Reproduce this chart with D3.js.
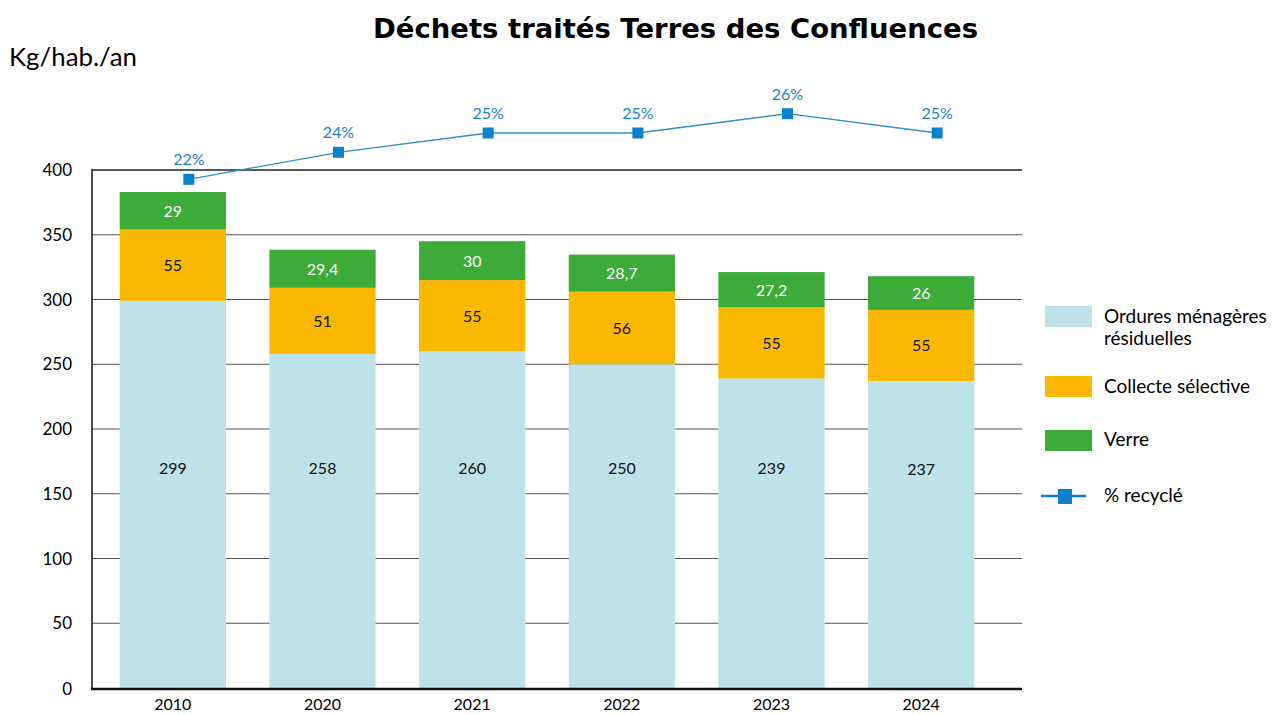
<!DOCTYPE html>
<html>
<head>
<meta charset="utf-8">
<script src="https://cdn.jsdelivr.net/npm/d3@7"></script>
<style>
	body { margin: 0; background: #ffffff; }
	text { font-family: "Lato", "Open Sans", sans-serif; }
</style>
</head>
<body>
<script>
// data
var years = ["2010", "2020", "2021", "2022", "2023", "2024"];
var omr = [299, 258, 260, 250, 239, 237];
var collecte = [55, 51, 55, 56, 55, 55];
var verre = [29, 29.4, 30, 28.7, 27.2, 26];
var recycle = [22.6, 24, 25, 25, 26, 25];
var recycleLabels = ["22%", "24%", "25%", "25%", "26%", "25%"];
var yTicks = [0, 50, 100, 150, 200, 250, 300, 350, 400];
var seriesNames = ["Ordures ménagères résiduelles", "Collecte sélective", "Verre"];
var colors = ["#bee2e9", "#fbb800", "#3dab38"];
var lineColor = "#0a80cf";

var width = 1274, height = 714;

var svg = d3.select("body").append("svg").attr("width", width).attr("height", height);

var x = d3.scaleBand().domain(years).range([98, 996]).paddingInner(0.29).paddingOuter(0.145);
var y = d3.scaleLinear().domain([0, 400]).range([688, 170]);
var yPct = d3.scaleLinear().domain([25, 26]).range([133, 113.7]);

// title
svg.append("text")
	.attr("x", 373).attr("y", 38)
	.attr("textLength", 605).attr("lengthAdjust", "spacingAndGlyphs")
	.style("font-family", "'DejaVu Sans', sans-serif")
	.style("font-size", "27px").style("font-weight", "bold")
	.text("Déchets traités Terres des Confluences");

svg.append("text")
	.attr("x", 9).attr("y", 66)
	.attr("textLength", 128).attr("lengthAdjust", "spacingAndGlyphs")
	.style("font-size", "25px")
	.text("Kg/hab./an");

// grid
svg.append("g").selectAll("line")
	.data(yTicks.filter(function(d){ return d > 0; }))
	.enter().append("line")
	.attr("x1", 92).attr("x2", 1022)
	.attr("y1", function(d){ return y(d); }).attr("y2", function(d){ return y(d); })
	.attr("stroke", function(d){ return d == 400 ? "#222" : "#555"; })
	.attr("stroke-width", function(d){ return d == 400 ? 1.3 : 1; });

// y axis labels
svg.append("g").selectAll("text")
	.data(yTicks)
	.enter().append("text")
	.attr("x", 72)
	.attr("y", function(d){ return y(d) + 6 - (d == 0 ? -1 : 0); })
	.attr("text-anchor", "end")
	.style("font-size", "17px")
	.text(function(d){ return d; });

// stacked bars
var table = years.map(function(yr, i){
	return { year: yr, omr: omr[i], collecte: collecte[i], verre: verre[i] };
});
var keys = ["omr", "collecte", "verre"];
var stacked = d3.stack().keys(keys)(table);

var layers = svg.append("g").selectAll("g")
	.data(stacked)
	.enter().append("g")
	.attr("fill", function(d, i){ return colors[i]; });

layers.selectAll("rect")
	.data(function(d){ return d; })
	.enter().append("rect")
	.attr("x", function(d){ return x(d.data.year); })
	.attr("width", x.bandwidth())
	.attr("y", function(d){ return y(d[1]); })
	.attr("height", function(d){ return y(d[0]) - y(d[1]); });

layers.each(function(layer, li){
	d3.select(this).selectAll("text")
		.data(layer)
		.enter().append("text")
		.attr("x", function(d){ return x(d.data.year) + x.bandwidth() / 2; })
		.attr("y", function(d){
			// the base segment labels sit high in the bar, not at its middle
			if (li == 0) return y(Math.min(170, d[1] * 0.6 + 27)) + 6;
			return (y(d[0]) + y(d[1])) / 2 + 6;
		})
		.attr("text-anchor", "middle")
		.attr("fill", li == 2 ? "#ffffff" : "#111111")
		.style("font-size", "16px")
		.text(function(d){ return String(d.data[keys[li]]).replace(".", ","); });
});

// axes lines
svg.append("line").attr("x1", 92).attr("x2", 92).attr("y1", 169).attr("y2", 690)
	.attr("stroke", "#111").attr("stroke-width", 1.5);
svg.append("line").attr("x1", 91).attr("x2", 1022).attr("y1", 689).attr("y2", 689)
	.attr("stroke", "#111").attr("stroke-width", 2.5);

// x labels
svg.append("g").selectAll("text")
	.data(years)
	.enter().append("text")
	.attr("x", function(d){ return x(d) + x.bandwidth() / 2; })
	.attr("y", 710)
	.attr("text-anchor", "middle")
	.style("font-size", "16px")
	.text(function(d){ return d; });

// recycled line
var line = d3.line()
	.x(function(d, i){ return x(years[i]) + x.bandwidth() / 2 + 16; })
	.y(function(d){ return yPct(d); });

svg.append("path")
	.datum(recycle)
	.attr("d", line)
	.attr("fill", "none")
	.attr("stroke", "#2b8fd4")
	.attr("stroke-width", 1.3);

svg.append("g").selectAll("rect")
	.data(recycle)
	.enter().append("rect")
	.attr("x", function(d, i){ return x(years[i]) + x.bandwidth() / 2 + 16 - 5.5; })
	.attr("y", function(d){ return yPct(d) - 5.5; })
	.attr("width", 11).attr("height", 11)
	.attr("fill", lineColor);

svg.append("g").selectAll("text")
	.data(recycle)
	.enter().append("text")
	.attr("x", function(d, i){ return x(years[i]) + x.bandwidth() / 2 + 16; })
	.attr("y", function(d){ return yPct(d) - 14; })
	.attr("text-anchor", "middle")
	.attr("fill", "#1a82cc")
	.style("font-size", "16px")
	.text(function(d, i){ return recycleLabels[i]; });

// legend
var legend = svg.append("g");
var legendY = [306, 376, 430];
legend.selectAll("rect")
	.data(seriesNames)
	.enter().append("rect")
	.attr("x", 1045).attr("y", function(d, i){ return legendY[i]; })
	.attr("width", 47).attr("height", 21)
	.attr("fill", function(d, i){ return colors[i]; });

legend.append("text").attr("x", 1104).attr("y", 323).style("font-size", "19px").text("Ordures ménagères");
legend.append("text").attr("x", 1104).attr("y", 345).style("font-size", "19px").text("résiduelles");
legend.append("text").attr("x", 1104).attr("y", 393).style("font-size", "19px").text(seriesNames[1]);
legend.append("text").attr("x", 1104).attr("y", 446).style("font-size", "19px").text(seriesNames[2]);

legend.append("line").attr("x1", 1041).attr("x2", 1086).attr("y1", 496).attr("y2", 496)
	.attr("stroke", lineColor).attr("stroke-width", 2.5);
legend.append("rect").attr("x", 1058).attr("y", 489).attr("width", 14).attr("height", 15).attr("fill", lineColor);
legend.append("text").attr("x", 1104).attr("y", 502).style("font-size", "19px").text("% recyclé");
</script>
</body>
</html>
